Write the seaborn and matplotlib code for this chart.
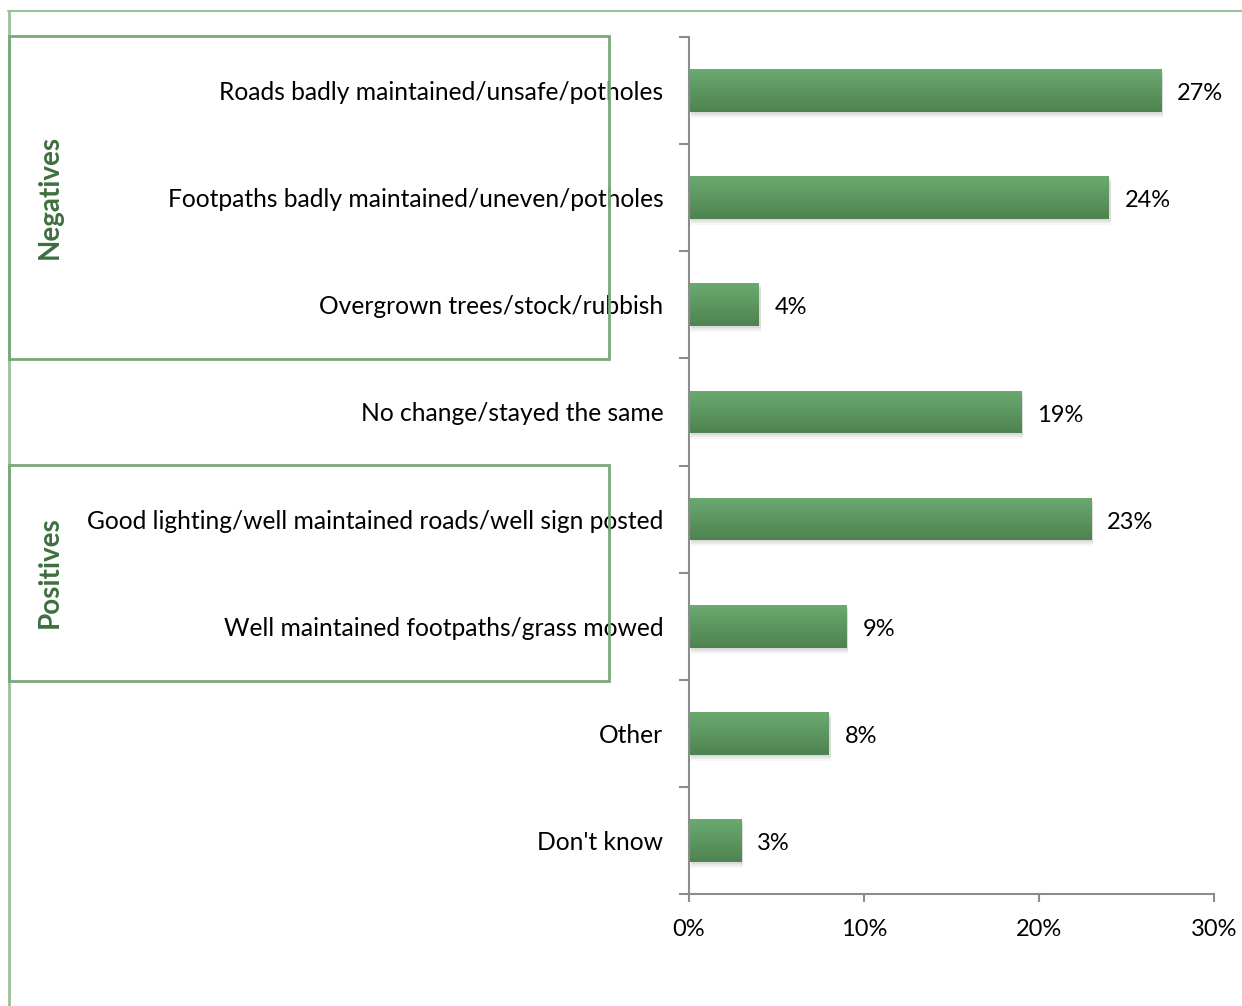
import numpy as np
import pandas as pd
import matplotlib
matplotlib.use("Agg")
import matplotlib.pyplot as plt
import seaborn as sns
from matplotlib.patches import Rectangle
from matplotlib.colors import LinearSegmentedColormap
from matplotlib.transforms import ScaledTranslation

categories = [
    "Roads badly maintained/unsafe/potholes",
    "Footpaths badly maintained/uneven/potholes",
    "Overgrown trees/stock/rubbish",
    "No change/stayed the same",
    "Good lighting/well maintained roads/well sign posted",
    "Well maintained footpaths/grass mowed",
    "Other",
    "Don't know",
]
values = [27, 24, 4, 19, 23, 9, 8, 3]
x_ticks = [0, 10, 20, 30]
x_tick_labels = ["0%", "10%", "20%", "30%"]
group_labels = ["Negatives", "Positives"]

df = pd.DataFrame({"category": categories, "value": values})

sns.set_theme(style="white")
plt.rcParams["font.family"] = ["Lato", "DejaVu Sans"]

W, H = 1242, 1006
fig = plt.figure(figsize=(W / 100, H / 100), dpi=100)
ax = fig.add_axes([689 / W, 1 - 894 / H, (1214 - 689) / W, (894 - 37) / H])

sns.barplot(data=df, y="category", x="value", orient="h", ax=ax,
            color="#5e9a62", width=0.4, saturation=1)

ax.set_xlim(0, 30)
ax.set_ylim(len(categories) - 0.5, -0.5)
ax.set_xlabel("")
ax.set_ylabel("")
ax.set_xticks(x_ticks)
ax.set_xticklabels(x_tick_labels)
ax.set_yticks(np.arange(len(categories)))
ax.set_yticklabels(categories)

# gradient fill + soft shadow for each bar
cmap = LinearSegmentedColormap.from_list("bar", ["#6aab70", "#4e8250"])
grad = np.linspace(0, 1, 256).reshape(-1, 1)
for p in list(ax.patches):
    x0, y0 = p.get_x(), p.get_y()
    w, h = p.get_width(), p.get_height()
    for k, a in [(2, 0.06), (4, 0.05), (6, 0.03)]:
        off = ScaledTranslation(1.5 / 100, -k / 100, fig.dpi_scale_trans)
        sh = Rectangle((x0, y0), w, h, transform=ax.transData + off,
                       facecolor="#000000", alpha=a, edgecolor="none", zorder=1)
        ax.add_patch(sh)
    p.set_facecolor("none")
    p.set_edgecolor("none")
    p.set_zorder(3)
    im = ax.imshow(grad, cmap=cmap, aspect="auto",
                   extent=(x0, x0 + w, y0 + h, y0), zorder=2)
    im.set_clip_path(p)
ax.set_xlim(0, 30)
ax.set_ylim(len(categories) - 0.5, -0.5)

# value labels
for i, v in enumerate(values):
    ax.text(v + 0.9, i + 0.01, f"{v}%", va="center_baseline", ha="left",
            fontsize=17, color="#000000")

# spines and ticks
for s in ["top", "right"]:
    ax.spines[s].set_visible(False)
for s in ["left", "bottom"]:
    ax.spines[s].set_color("#8c8c8c")
    ax.spines[s].set_linewidth(1.5)
ax.tick_params(axis="x", which="major", direction="out", length=6, width=1.5,
               color="#8c8c8c", labelsize=17, labelcolor="#000000", pad=12, bottom=True)
ax.tick_params(axis="y", which="major", length=0, labelsize=17.7,
               labelcolor="#000000", pad=18.5, left=False)
for lbl in ax.get_yticklabels():
    lbl.set_verticalalignment("center_baseline")
ax.set_yticks(np.arange(-0.5, len(categories) + 0.5, 1), minor=True)
ax.tick_params(axis="y", which="minor", direction="out", length=7, width=1.5,
               color="#8c8c8c", left=True)
ax.grid(False)

# outer frame lines
frame_c = "#9dc09d"
fig.add_artist(plt.Line2D([8 / W, 1], [1 - 11 / H, 1 - 11 / H],
                          transform=fig.transFigure, color=frame_c, lw=1.5))
fig.add_artist(plt.Line2D([9 / W, 9 / W], [0, 1 - 11 / H],
                          transform=fig.transFigure, color=frame_c, lw=2))

# group boxes
box_c = "#7aa87a"
for (top, bot) in [(36, 359), (465, 681)]:
    fig.add_artist(Rectangle((9 / W, 1 - bot / H), (609 - 9) / W, (bot - top) / H,
                             transform=fig.transFigure, facecolor="none",
                             edgecolor=box_c, lw=2, zorder=10))

fig.text(50 / W, 1 - 197 / H, group_labels[0], rotation=90, ha="center", va="center",
         fontsize=20, fontweight="bold", color="#3f6f3f")
fig.text(50 / W, 1 - 572 / H, group_labels[1], rotation=90, ha="center", va="center",
         fontsize=20, fontweight="bold", color="#3f6f3f")

fig.savefig("out.png", dpi=100, facecolor="white")
